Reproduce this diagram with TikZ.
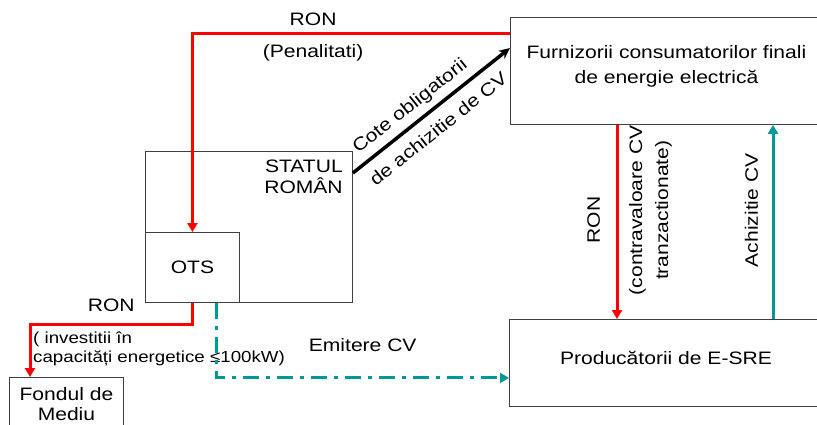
\documentclass[tikz,border=0pt]{standalone}
\usepackage{fontspec}
\setmainfont{Liberation Sans}[FakeStretch=1.17]
\usetikzlibrary{arrows.meta,positioning,calc}
\definecolor{ronred}{RGB}{255,0,0}
\definecolor{cvteal}{RGB}{0,153,153}
\definecolor{boxgray}{RGB}{64,64,64}
\tikzset{
  ebox/.style={draw=boxgray, line width=0.9pt, inner sep=0pt, align=center,
               font=\fontsize{18}{25}\selectfont},
  lbl/.style={font=\fontsize{18}{25}\selectfont, inner sep=2pt, align=center},
  ronflow/.style={draw=ronred, line width=3pt, -{Triangle[length=9pt, width=10pt]}},
  cvflow/.style={draw=cvteal, line width=3pt, -{Triangle[length=9pt, width=10pt]}},
  quota/.style={draw=black, line width=3.5pt, -{Stealth[length=11pt, width=10pt]}},
}
\begin{document}
\begin{tikzpicture}[x=1pt, y=-1pt]
\useasboundingbox (0,0) rectangle (817,424);
% Boxes
\node[ebox, minimum width=207pt, minimum height=151pt, anchor=north west] (statul) at (145,151) {};
\node[lbl, align=right, anchor=north east, font=\fontsize{18}{21}\selectfont] (statulname)
  at ([xshift=-8pt, yshift=-7pt]statul.north east) {STATUL\\ROMÂN};
\node[ebox, minimum width=94pt, minimum height=70pt, anchor=north west] (ots) at (145,232) {OTS};
\node[ebox, minimum width=312pt, minimum height=107pt, anchor=north west,
      label={[lbl, yshift=4.5pt]center:{Furnizorii consumatorilor finali\\de energie electrică}}] (furn) at (510,17) {};
\node[ebox, minimum width=313pt, minimum height=87pt, anchor=north west,
      label={[lbl, yshift=5pt]center:Producătorii de E-SRE}] (prod) at (509,319) {};
\node[ebox, minimum width=114pt, minimum height=53pt, anchor=north west,
      font=\fontsize{18}{20}\selectfont] (fond) at (9,377) {Fondul de\\Mediu};
% Penalties
\draw[ronflow] ([yshift=-16pt]furn.north west) -|
  node[lbl, pos=0.31, above=4pt] {RON}
  node[lbl, pos=0.31, below=8pt] {(Penalitati)} (ots.north);
% Quotas
\draw[quota] ([yshift=-22pt]statul.north east) --
  node[lbl, sloped, pos=0.43, above=4pt] {Cote obligatorii}
  node[lbl, sloped, pos=0.47, below=8pt] {de achizitie de CV} ([yshift=-31pt]furn.north west);
% Payment and purchase
\draw[ronflow] ([xshift=107pt]furn.south west) coordinate (paytop) --
  node[lbl, rotate=90, anchor=south, outer sep=15pt, pos=0.49] {RON}
  node[lbl, rotate=90, anchor=north, outer sep=10pt, pos=0.44, font=\fontsize{18}{26}\selectfont]
    {(contravaloare CV\\tranzactionate)} (paytop |- prod.north);
\draw[cvflow] ([xshift=264pt]prod.north west) coordinate (buybot) --
  node[lbl, rotate=90, anchor=south, outer sep=13pt, pos=0.56] {Achizitie CV} (buybot |- furn.south);
% Environment fund
\draw[ronflow] (ots.south) -- ++(0,22) -|
  node[lbl, pos=0.25, above=10pt] {RON} ([xshift=21pt]fond.north west);
\node[lbl, align=left, anchor=north west, font=\fontsize{16}{19}\selectfont] (invest)
  at (31,330) {( investitii în\\capacități energetice ≤100kW)};
% Certificate issue
\draw[cvflow, dash pattern=on 16pt off 7pt on 4pt off 7pt] ([xshift=24pt]ots.south) |-
  node[lbl, pos=0.75, above=23pt] {Emitere CV} ([yshift=-15pt]prod.west);
\end{tikzpicture}
\end{document}
